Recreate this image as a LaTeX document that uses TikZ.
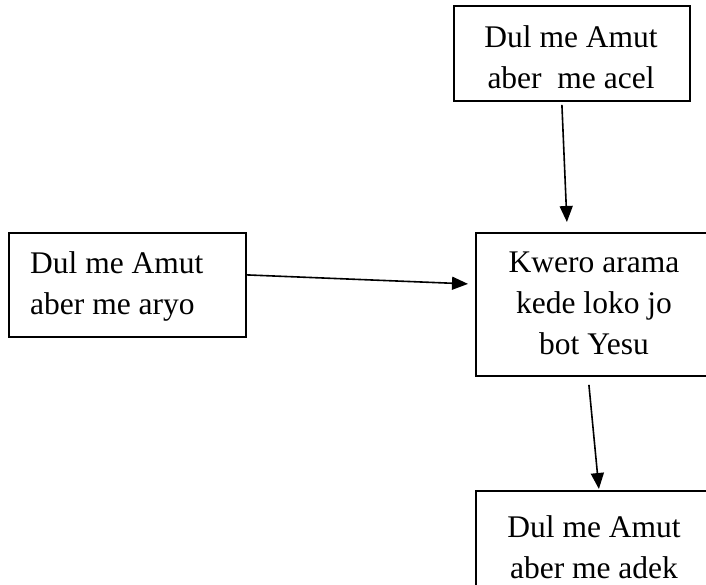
\documentclass[tikz,border=0pt]{standalone}
\usepackage{fontspec}
\setmainfont{Liberation Serif}
\usetikzlibrary{arrows.meta}
\begin{document}
\begin{tikzpicture}[x=1pt,y=-1pt,
  box/.style={draw, line width=1.8pt, inner sep=0pt, anchor=north west},
  txt/.style={inner sep=0pt, font=\fontsize{31.5}{41}\selectfont},
  conn/.style={line width=1.6pt, -{Triangle[length=16pt,width=13pt]}}]
\useasboundingbox (0,0) rectangle (706,584);
\clip (0,0) rectangle (706,584);
% boxes
\node[box, minimum width=236pt, minimum height=95pt] (top) at (453,5) {};
\node[box, minimum width=237pt, minimum height=104pt] (left) at (8,232) {};
\node[box, minimum width=240pt, minimum height=143pt] (center) at (475,232) {};
\node[box, minimum width=240pt, minimum height=110pt] (bottom) at (475,490) {};
% texts
\node[txt, anchor=base] (ttop) at (571,47) {\begin{tabular}[t]{@{}c@{}}Dul me Amut\\aber\ \ me acel\end{tabular}};
\node[txt, anchor=base west] (tleft) at (30,273) {\begin{tabular}[t]{@{}l@{}}Dul me Amut\\aber me aryo\end{tabular}};
\node[txt, anchor=base] (tcenter) at (594,272) {\begin{tabular}[t]{@{}c@{}}Kwero arama\\kede loko jo\\bot Yesu\end{tabular}};
\node[txt, anchor=base] (tbottom) at (594,537) {\begin{tabular}[t]{@{}c@{}}Dul me Amut\\aber me adek\end{tabular}};
% connectors
\draw[conn] ([xshift=-10pt,yshift=-3pt]top.south) -- ([xshift=-29pt,yshift=10pt]center.north);
\draw[conn] ([yshift=10pt]left.east) -- ([xshift=-7pt,yshift=20.5pt]center.west);
\draw[conn] ([xshift=-7pt,yshift=-8pt]center.south) -- ([xshift=3pt,yshift=1pt]bottom.north);
\end{tikzpicture}
\end{document}
